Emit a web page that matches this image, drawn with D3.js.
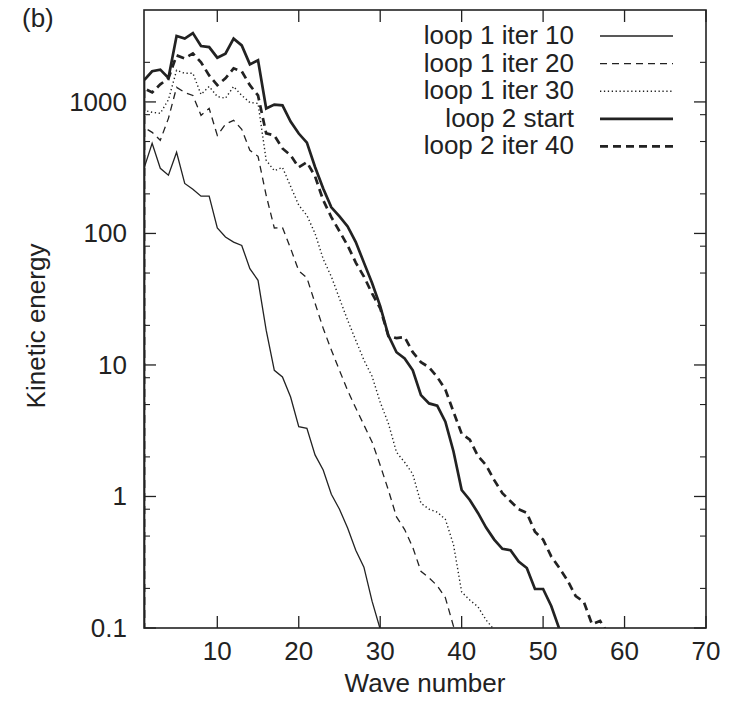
<!DOCTYPE html>
<html>
<head>
<meta charset="utf-8">
<script src="https://cdn.jsdelivr.net/npm/d3@7"></script>
<style>
  html, body { margin: 0; padding: 0; background: #fff; }
  svg { display: block; }
  text { font-family: "Liberation Sans", Arial, Helvetica, sans-serif; fill: #222; }
</style>
</head>
<body>
<svg id="chart" width="729" height="701"></svg>
<script>
// ---------------- data ----------------
// each series starts at wave number 1 and increases by 1
const seriesNames = ["loop 1 iter 10", "loop 1 iter 20", "loop 1 iter 30", "loop 2 start", "loop 2 iter 40"];

const loop1iter10 = [313, 484, 313, 277, 414, 240, 217, 192, 192, 110, 94, 86, 81, 54, 44, 18.4, 9.1, 8.1, 5.7, 3.4,
  3.3, 2.07, 1.59, 1.04, 0.80, 0.575, 0.39, 0.29, 0.16, 0.098];

const loop1iter20 = [641, 587, 511, 750, 1290, 1180, 1120, 791, 893, 557, 676, 725, 619, 428, 386, 195, 110, 111, 77, 52,
  46, 29.5, 19, 13, 9.1, 6.4, 4.7, 3.5, 2.6, 1.73, 1.12, 0.70, 0.56, 0.41, 0.27, 0.24, 0.21, 0.17, 0.103, 0.07];

const loop1iter30 = [863, 834, 819, 1040, 1740, 1650, 1650, 1140, 1310, 1100, 1065, 1310, 1120, 990, 975, 360, 300, 318, 228, 164,
  137, 100, 64, 47, 32, 21.9, 15.4, 10.9, 8.2, 5.2, 3.6, 2.17, 1.82, 1.48, 0.89, 0.80, 0.76, 0.67, 0.43, 0.188,
  0.163, 0.145, 0.115, 0.097];

const loop2start = [1460, 1710, 1760, 1520, 3170, 3030, 3340, 2660, 2610, 2170, 2330, 3030, 2690, 1930, 2070, 890, 955, 942, 710, 575,
  490, 320, 220, 158, 135, 113, 86, 60, 42, 28, 16.8, 12.5, 11.2, 9.1, 5.9, 5.1, 4.9, 3.7, 2.2, 1.12,
  0.94, 0.75, 0.58, 0.47, 0.40, 0.39, 0.32, 0.286, 0.198, 0.198, 0.147, 0.098];

const loop2iter40 = [1270, 1180, 1360, 1510, 2260, 2140, 2340, 2000, 1590, 1340, 1510, 1800, 1710, 1340, 1120, 577, 557, 443, 393, 318,
  348, 272, 179, 133, 104, 81, 60, 47, 35, 27, 16.6, 16, 16.3, 12.5, 10.5, 9.6, 8.1, 6.5, 4.4, 3.0,
  2.7, 2.03, 1.73, 1.33, 1.06, 0.92, 0.80, 0.75, 0.54, 0.47, 0.35, 0.286, 0.23, 0.175, 0.158, 0.107, 0.113, 0.09];

const xTickValues = [10, 20, 30, 40, 50, 60, 70];
const yTickValues = [0.1, 1, 10, 100, 1000];
const yTickLabels = ["0.1", "1", "10", "100", "1000"];
const yMinorTicks = [0.2, 0.5, 0.8, 2, 5, 8, 20, 50, 80, 200, 500, 800, 2000];

// ---------------- layout ----------------
const svg = d3.select("#chart");
const M = { left: 144, right: 706, top: 10, bottom: 628 };
const x = d3.scaleLinear().domain([1, 70]).range([M.left, M.right]);
const y = d3.scaleLog().domain([0.1, 5000]).range([M.bottom, M.top]);
const ink = "#222";

const styles = [
  { width: 1.3, dash: null },
  { width: 1.3, dash: "7,5" },
  { width: 1.4, dash: "1.3,2.6" },
  { width: 2.7, dash: null },
  { width: 2.7, dash: "8,5" }
];
const allSeries = [loop1iter10, loop1iter20, loop1iter30, loop2start, loop2iter40];

svg.append("defs").append("clipPath").attr("id", "plotclip")
  .append("rect").attr("x", M.left).attr("y", M.top)
  .attr("width", M.right - M.left).attr("height", M.bottom - M.top);

// ---------------- curves ----------------
const line = d3.line().x(d => x(d.k)).y(d => y(d.v));
const floorValue = 1e-3; // curves drop off at wave number 1 (below the plotted range)
const gLines = svg.append("g").attr("clip-path", "url(#plotclip)");
allSeries.forEach((vals, si) => {
  const pts = [{ k: 1, v: floorValue }].concat(vals.map((v, i) => ({ k: i + 1, v })));
  gLines.append("path")
    .attr("d", line(pts))
    .attr("fill", "none")
    .attr("stroke", ink)
    .attr("stroke-width", styles[si].width)
    .attr("stroke-linejoin", "miter")
    .attr("stroke-dasharray", styles[si].dash);
});

// ---------------- frame & ticks ----------------
const gAx = svg.append("g").attr("stroke", ink).attr("fill", "none");
gAx.append("rect").attr("x", M.left).attr("y", M.top)
  .attr("width", M.right - M.left).attr("height", M.bottom - M.top)
  .attr("stroke-width", 1.6);

const majorLen = 12, minorLen = 6;
xTickValues.forEach(v => {
  gAx.append("line").attr("x1", x(v)).attr("x2", x(v)).attr("y1", M.bottom).attr("y2", M.bottom - majorLen).attr("stroke-width", 1.3);
  gAx.append("line").attr("x1", x(v)).attr("x2", x(v)).attr("y1", M.top).attr("y2", M.top + majorLen).attr("stroke-width", 1.3);
});
yTickValues.forEach(v => {
  gAx.append("line").attr("x1", M.left).attr("x2", M.left + majorLen).attr("y1", y(v)).attr("y2", y(v)).attr("stroke-width", 1.3);
  gAx.append("line").attr("x1", M.right).attr("x2", M.right - majorLen).attr("y1", y(v)).attr("y2", y(v)).attr("stroke-width", 1.3);
});
yMinorTicks.forEach(v => {
  gAx.append("line").attr("x1", M.left).attr("x2", M.left + minorLen).attr("y1", y(v)).attr("y2", y(v)).attr("stroke-width", 1.1);
  gAx.append("line").attr("x1", M.right).attr("x2", M.right - minorLen).attr("y1", y(v)).attr("y2", y(v)).attr("stroke-width", 1.1);
});

// ---------------- tick labels ----------------
const fs = 26;
svg.append("g").selectAll("text").data(xTickValues).join("text")
  .attr("x", d => x(d)).attr("y", 660)
  .attr("text-anchor", "middle").attr("font-size", fs)
  .text(d => String(d));

svg.append("g").selectAll("text").data(yTickValues).join("text")
  .attr("x", 127).attr("y", d => y(d) + 9)
  .attr("text-anchor", "end").attr("font-size", fs)
  .text((d, i) => yTickLabels[i]);

// axis titles
svg.append("text").attr("x", (M.left + M.right) / 2).attr("y", 692)
  .attr("text-anchor", "middle").attr("font-size", fs).text("Wave number");
svg.append("text").attr("transform", "translate(45,326) rotate(-90)")
  .attr("text-anchor", "middle").attr("font-size", fs).text("Kinetic energy");
svg.append("text").attr("x", 22).attr("y", 27).attr("font-size", fs).text("(b)");

// ---------------- legend ----------------
const legY0 = 36, legDy = 27.6;
const gLeg = svg.append("g");
seriesNames.forEach((name, i) => {
  const ly = legY0 + i * legDy;
  gLeg.append("text").attr("x", 574).attr("y", ly + 8)
    .attr("text-anchor", "end").attr("font-size", fs).text(name);
  gLeg.append("line").attr("x1", 600).attr("x2", 673).attr("y1", ly).attr("y2", ly)
    .attr("stroke", ink).attr("stroke-width", styles[i].width)
    .attr("stroke-dasharray", styles[i].dash);
});
</script>
</body>
</html>
